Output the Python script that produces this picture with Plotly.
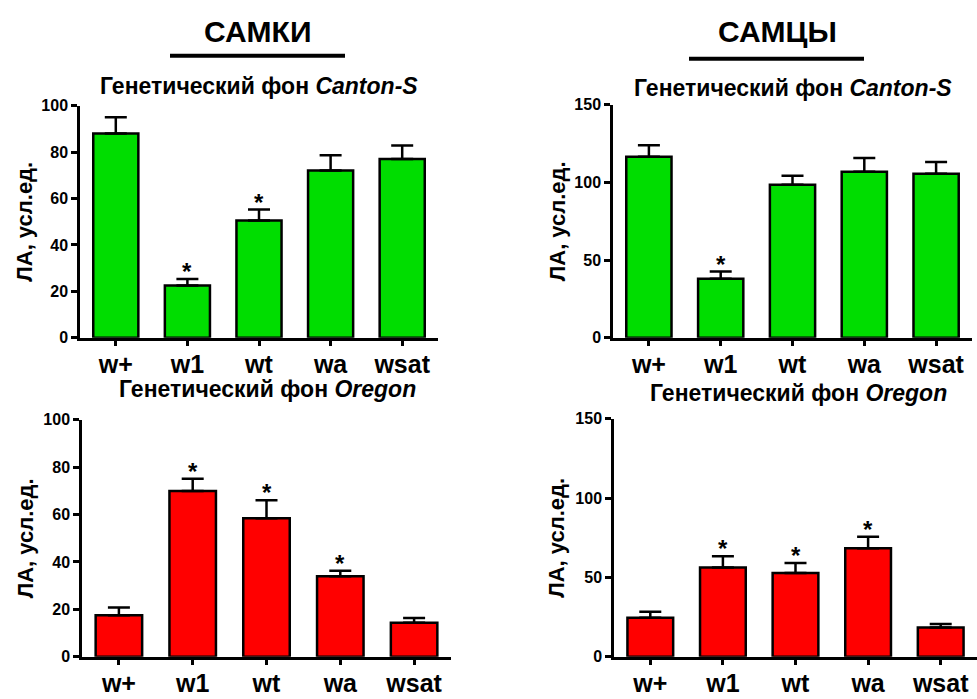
import plotly.graph_objects as go

W, H = 977, 699

categories = ["w+", "w1", "wt", "wa", "wsat"]

# Females (САМКИ), Canton-S background
f_cs_vals = [88.0, 22.5, 50.5, 72.0, 77.0]
f_cs_err = [7.0, 2.8, 4.7, 6.6, 5.8]
f_cs_sig = [0, 1, 1, 0, 0]
# Males (САМЦЫ), Canton-S background
m_cs_vals = [116.5, 38.0, 98.5, 106.8, 105.5]
m_cs_err = [7.3, 4.6, 5.8, 8.8, 7.6]
m_cs_sig = [0, 1, 0, 0, 0]
# Females, Oregon background
f_or_vals = [17.5, 69.9, 58.5, 34.0, 14.4]
f_or_err = [3.3, 5.2, 7.5, 2.3, 2.0]
f_or_sig = [0, 1, 1, 1, 0]
# Males, Oregon background
m_or_vals = [24.6, 56.3, 52.8, 68.4, 18.4]
m_or_err = [3.8, 7.1, 6.3, 7.3, 2.3]
m_or_sig = [0, 1, 1, 1, 0]

y_ticks_f = [0, 20, 40, 60, 80, 100]
y_ticks_m = [0, 50, 100, 150]

GREEN = "#00dd00"
RED = "#ff0000"
FONT = "Liberation Sans, Arial, sans-serif"

def px_x(p):
    return p / W

def px_y(p):
    return 1 - p / H

panels = [
    (f_cs_vals, f_cs_err, f_cs_sig, GREEN, 100, y_ticks_f, (80, 438), (100, 338)),
    (m_cs_vals, m_cs_err, m_cs_sig, GREEN, 150, y_ticks_m, (613, 972), (99, 338)),
    (f_or_vals, f_or_err, f_or_sig, RED, 100, y_ticks_f, (82, 451), (422, 665)),
    (m_or_vals, m_or_err, m_or_sig, RED, 150, y_ticks_m, (614, 977), (421, 665)),
]

fig = go.Figure()
layout = {}
annotations = []

for i, (vals, err, sig, color, ymax, ticks, xd, yd) in enumerate(panels):
    n = "" if i == 0 else str(i + 1)
    xa, ya = "x" + n, "y" + n
    fig.add_trace(go.Bar(
        x=categories, y=vals, xaxis=xa, yaxis=ya,
        width=0.63,
        marker=dict(color=color, line=dict(color="black", width=2.5)),
        error_y=dict(type="data", symmetric=False, array=err,
                     arrayminus=[0] * len(err), color="black",
                     thickness=2.5, width=11),
        showlegend=False, hoverinfo="skip",
    ))
    layout["xaxis" + n] = dict(
        domain=[px_x(xd[0]), px_x(xd[1])], anchor=ya,
        range=[-0.5, 4.5], showline=True, linecolor="black", linewidth=2.5,
        ticks="outside", ticklen=5, tickwidth=2.5, tickcolor="black",
        ticklabelstandoff=-3,
        tickfont=dict(family=FONT, size=25, color="black", weight="bold"),
        showgrid=False, zeroline=False, fixedrange=True,
    )
    layout["yaxis" + n] = dict(
        domain=[px_y(yd[1]), px_y(yd[0])], anchor=xa,
        range=[0, ymax], tickvals=ticks, showline=True, linecolor="black",
        linewidth=2.5, ticks="outside", ticklen=6, tickwidth=2.5,
        tickcolor="black",
        tickfont=dict(family=FONT, size=16, color="black", weight="bold"),
        showgrid=False, zeroline=False, fixedrange=True,
    )
    # significance asterisks above the error bars
    for c, v, e, s in zip(categories, vals, err, sig):
        if s:
            annotations.append(dict(
                x=c, y=v + e, xref=xa, yref=ya, text="*", showarrow=False,
                yanchor="bottom", yshift=-8,
                font=dict(family=FONT, size=24, color="black", weight="bold"),
            ))
    # y-axis titles
    xcenter = 25 if i % 2 == 0 else 557
    ycenter = (yd[0] + yd[1]) / 2
    annotations.append(dict(
        x=px_x(xcenter), y=px_y(ycenter), xref="paper", yref="paper",
        text="ЛА, усл.ед.", textangle=-90, showarrow=False,
        xanchor="center", yanchor="middle",
        font=dict(family=FONT, size=22, color="black", weight="bold"),
    ))

subtitles = [
    ("Генетический фон <i>Canton-S</i>", 259, 80),
    ("Генетический фон <i>Canton-S</i>", 793, 82),
    ("Генетический фон <i>Oregon</i>", 267, 390),
    ("Генетический фон <i>Oregon</i>", 798, 395),
]
for t, x, y in subtitles:
    annotations.append(dict(
        x=px_x(x), y=px_y(y), xref="paper", yref="paper", text=t,
        showarrow=False, xanchor="center", yanchor="middle",
        font=dict(family=FONT, size=23, color="black", weight="bold"),
    ))

headers = [("САМКИ", 257, 24), ("САМЦЫ", 777, 24)]
for t, x, y in headers:
    annotations.append(dict(
        x=px_x(x), y=px_y(y), xref="paper", yref="paper", text=t,
        showarrow=False, xanchor="center", yanchor="middle",
        font=dict(family=FONT, size=30, color="black", weight="bold"),
    ))

shapes = [
    dict(type="line", xref="paper", yref="paper", x0=px_x(170), x1=px_x(345),
         y0=px_y(49), y1=px_y(49), line=dict(color="black", width=4)),
    dict(type="line", xref="paper", yref="paper", x0=px_x(689), x1=px_x(864),
         y0=px_y(52), y1=px_y(52), line=dict(color="black", width=4)),
]

fig.update_layout(
    width=W, height=H, margin=dict(l=0, r=0, t=0, b=0),
    paper_bgcolor="white", plot_bgcolor="white",
    annotations=annotations, shapes=shapes, **layout,
)

fig.write_html(
    "out.html",
    config={"displayModeBar": False},
    post_script="document.body.style.margin='0';document.body.style.overflow='hidden';",
)
